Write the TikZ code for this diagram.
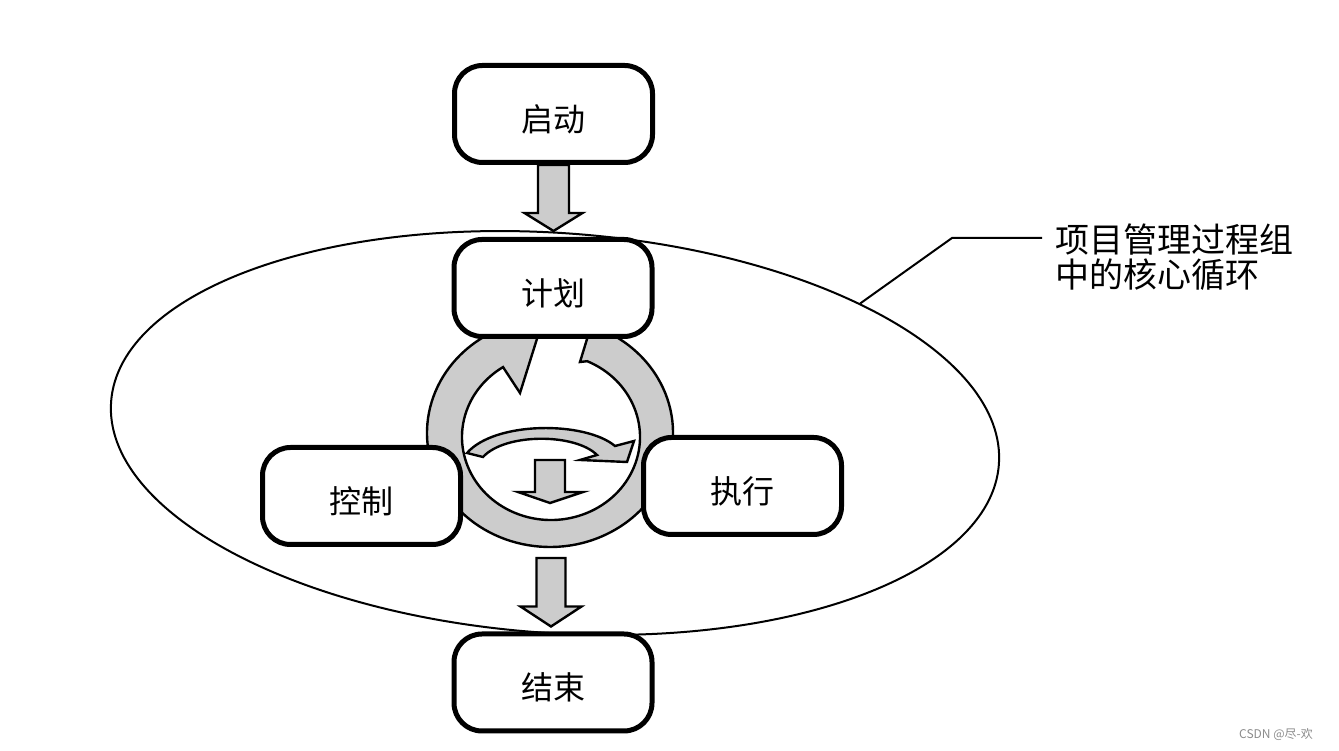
\documentclass[tikz,border=0pt]{standalone}
\usepackage{fontspec}
\newfontfamily\cjk{Noto Sans CJK SC}
\usetikzlibrary{shapes.geometric,calc}
\tikzset{
  box/.style={draw, line width=5pt, rounded corners=28pt, fill=white,
    minimum width=198pt, minimum height=97pt, inner sep=0pt,
    text height=39pt, text depth=4pt,
    font=\cjk\fontsize{32}{36}\selectfont},
  stipple/.style={fill=black!20, draw=black, line width=2.4pt, line join=miter},
  thinline/.style={draw=black, line width=2pt},
}
\begin{document}
\begin{tikzpicture}[x=1pt,y=1pt]
\useasboundingbox (0,0) rectangle (1339,751);
\fill[white] (0,0) rectangle (1339,751);

% outer ellipse
\node[thinline, ellipse, minimum width=890pt, minimum height=400pt, inner sep=0pt, rotate=-4] (ell) at (555,318) {};

% ring with gap and arrowhead
\filldraw[stipple] (484.82,414.68) arc[start angle=122, end angle=418, x radius=123, y radius=114]
  -- (615,425) -- (591,425) -- (580,389) -- (587.2,389.8)
  arc[start angle=66, end angle=-237.4, x radius=89, y radius=83]
  -- (520,358) -- (541,425) -- (484,425) -- cycle;
\coordinate (ringbot) at (551,204);

% curved arrow inside ring
\filldraw[stipple] (467,298) .. controls (495,330) and (585,330) .. (615,305)
  -- (634,310) -- (627,289) -- (580,291) -- (597,296)
  .. controls (575,318) and (505,318) .. (483,294) -- cycle;

% small down arrow inside ring
\filldraw[stipple] (535,291) -- (535,259) -- (518,259) -- (550,248) -- (583,259) -- (565,259) -- (565,291) -- cycle;

% boxes
\node[box] (start)  at (553.5,637) {启动};
\node[box] (plan)   at (553,463)   {计划};
\node[box] (ctrl)   at (361.5,255) {控制};
\node[box] (exec)   at (742.5,265) {执行};
\node[box] (finish) at (553,68.5)  {结束};

% block arrows
\filldraw[stipple] let \p1=(start.south), \p2=([yshift=6pt]plan.north) in
  (\x1-15.5pt,\y1) -- (\x1-15.5pt,\y2+18pt) -- (\x1-29pt,\y2+18pt) -- (\x1,\y2)
  -- (\x1+29pt,\y2+18pt) -- (\x1+15.5pt,\y2+18pt) -- (\x1+15.5pt,\y1) -- cycle;
\filldraw[stipple] let \p1=([yshift=-11pt]ringbot), \p2=([yshift=5pt]finish.north) in
  (\x1-14.5pt,\y1) -- (\x1-14.5pt,\y2+20pt) -- (\x1-30.5pt,\y2+20pt) -- (\x1,\y2)
  -- (\x1+30.5pt,\y2+20pt) -- (\x1+14.5pt,\y2+20pt) -- (\x1+14.5pt,\y1) -- cycle;

% callout
\node[anchor=west, align=left, inner sep=0pt, font=\cjk\fontsize{34}{35}\selectfont] (callout) at (1055,494)
  {项目管理过程组\\中的核心循环};
\coordinate (kink) at (952,513);
\draw[thinline, shorten >=13pt] (ell.27) -- (kink) -- (kink -| callout.west);

% watermark
\node[font=\cjk\fontsize{12}{14}\selectfont, text=black!45] (wm) at (1276,16) {CSDN @尽-欢};
\end{tikzpicture}
\end{document}
